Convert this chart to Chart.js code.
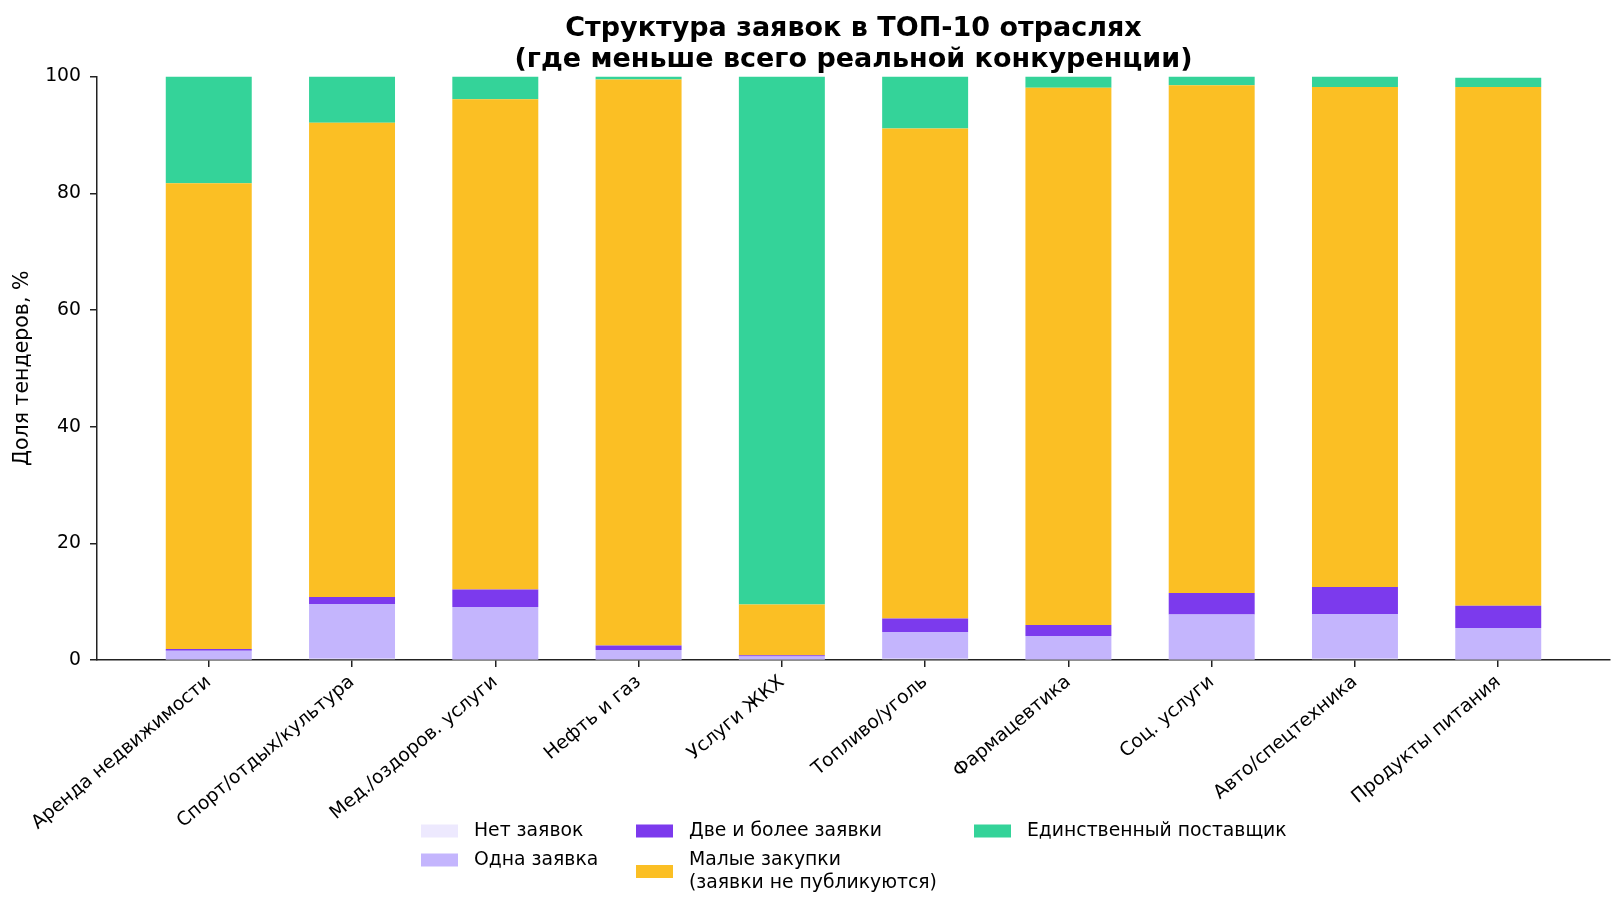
<!DOCTYPE html>
<html>
<head>
<meta charset="utf-8">
<script src="https://cdn.jsdelivr.net/npm/chart.js@4.4.1/dist/chart.umd.min.js"></script>
<style>
  html, body { margin: 0; padding: 0; background: #fff; }
  #wrap { width: 1624px; height: 915px; position: relative; }
</style>
</head>
<body>
<div id="wrap"><canvas id="myChart" width="1624" height="915"></canvas></div>
<script>
'use strict';
// categories and shares (%)
let categories = ['Аренда недвижимости', 'Спорт/отдых/культура', 'Мед./оздоров. услуги',
    'Нефть и газ', 'Услуги ЖКХ', 'Топливо/уголь', 'Фармацевтика', 'Соц. услуги',
    'Авто/спецтехника', 'Продукты питания'];
let noBids    = [0.1, 0.2, 0.1, 0.1, 0.1, 0.2, 0.1, 0.1, 0.2, 0.1];
let oneBid    = [1.5, 9.4, 9.0, 1.6, 0.5, 4.6, 4.0, 7.7, 7.7, 5.4];
let twoPlus   = [0.3, 1.2, 3.0, 0.8, 0.2, 2.3, 1.9, 3.7, 4.6, 3.8];
let smallBuys = [79.8, 81.3, 84.0, 97.0, 8.7, 84.0, 92.1, 87.0, 85.7, 88.9];
let soleSup   = [18.3, 7.9, 3.9, 0.5, 90.5, 8.9, 1.9, 1.5, 1.8, 1.6];
let yTicks = [0, 20, 40, 60, 80, 100];

let seriesNames = [['Нет заявок'], ['Одна заявка'], ['Две и более заявки'],
    ['Малые закупки', '(заявки не публикуются)'], ['Единственный поставщик']];
let seriesValues = [noBids, oneBid, twoPlus, smallBuys, soleSup];
let seriesColors = ['#ede9fe', '#c4b5fd', '#7c3aed', '#fbbf24', '#34d399'];

const FONT = 'DejaVu Sans';

let datasets = [];
for (let s = 0; s < seriesValues.length; s++) {
    datasets.push({
        label: seriesNames[s].join(' '),
        data: seriesValues[s].map((v, i) => ({ x: i, y: v })),
        backgroundColor: seriesColors[s],
        borderWidth: 0,
        barPercentage: 0.6,
        categoryPercentage: 1.0
    });
}

// matplotlib-like legend: 3 columns, filled column by column
let legendPlugin = {
    id: 'mplLegend',
    afterDraw(chart) {
        let ctx = chart.ctx;
        let cols = [[0, 1], [2, 3], [4]];
        let colX = [421, 636, 974];
        let rowY = [831, 860];
        let lineH = 23;
        ctx.save();
        ctx.font = '18.8px "' + FONT + '"';
        ctx.textBaseline = 'middle';
        for (let c = 0; c < cols.length; c++) {
            for (let k = 0; k < cols[c].length; k++) {
                let s = cols[c][k];
                let lines = seriesNames[s];
                let top = (k === 0) ? rowY[0] : rowY[1];
                let mid = top + (lines.length - 1) * lineH / 2;
                ctx.fillStyle = seriesColors[s];
                ctx.fillRect(colX[c], mid - 6.5, 37, 13);
                ctx.fillStyle = '#000';
                for (let l = 0; l < lines.length; l++) {
                    ctx.fillText(lines[l], colX[c] + 53, top + l * lineH);
                }
            }
        }
        ctx.restore();
    }
};

let ctx = document.getElementById('myChart').getContext('2d');
let myChart = new Chart(ctx, {
    type: 'bar',
    data: { datasets: datasets },
    plugins: [legendPlugin],
    options: {
        responsive: false,
        animation: false,
        layout: { padding: { top: 0, left: 0, right: 14, bottom: 0 } },
        plugins: {
            legend: { display: false },
            tooltip: { enabled: false },
            title: {
                display: true,
                fullSize: false,
                text: ['Структура заявок в ТОП-10 отраслях', '(где меньше всего реальной конкуренции)'],
                color: '#000',
                font: { family: FONT, size: 27, weight: 'bold', lineHeight: 1.15 },
                padding: { top: 13, bottom: 1.5 }
            }
        },
        scales: {
            x: {
                type: 'linear',
                stacked: true,
                offset: false,
                min: -0.78,
                max: 9.78,
                afterBuildTicks: (scale) => {
                    scale.ticks = categories.map((c, i) => ({ value: i }));
                },
                afterFit: (scale) => { scale.height = 255; },
                ticks: {
                    autoSkip: false,
                    minRotation: 40,
                    maxRotation: 40,
                    color: '#000',
                    padding: 4,
                    font: { family: FONT, size: 18.8 },
                    callback: (v) => categories[v]
                },
                grid: { display: true, offset: false, drawOnChartArea: false, drawTicks: true, tickLength: 7, color: '#222', lineWidth: 1.5 },
                border: { display: true, color: '#222', width: 1.5 }
            },
            y: {
                stacked: true,
                min: 0,
                max: 100,
                afterBuildTicks: (scale) => {
                    scale.ticks = yTicks.map(v => ({ value: v }));
                },
                afterFit: (scale) => { scale.width = 97; },
                ticks: {
                    color: '#000',
                    padding: 9,
                    font: { family: FONT, size: 18.8 }
                },
                title: {
                    display: true,
                    text: 'Доля тендеров, %',
                    color: '#000',
                    font: { family: FONT, size: 20.5 },
                    padding: { top: 10, bottom: 0 }
                },
                grid: { display: true, drawOnChartArea: false, drawTicks: true, tickLength: 7, color: '#222', lineWidth: 1.5 },
                border: { display: true, color: '#222', width: 1.5 }
            }
        }
    }
});
</script>
</body>
</html>
